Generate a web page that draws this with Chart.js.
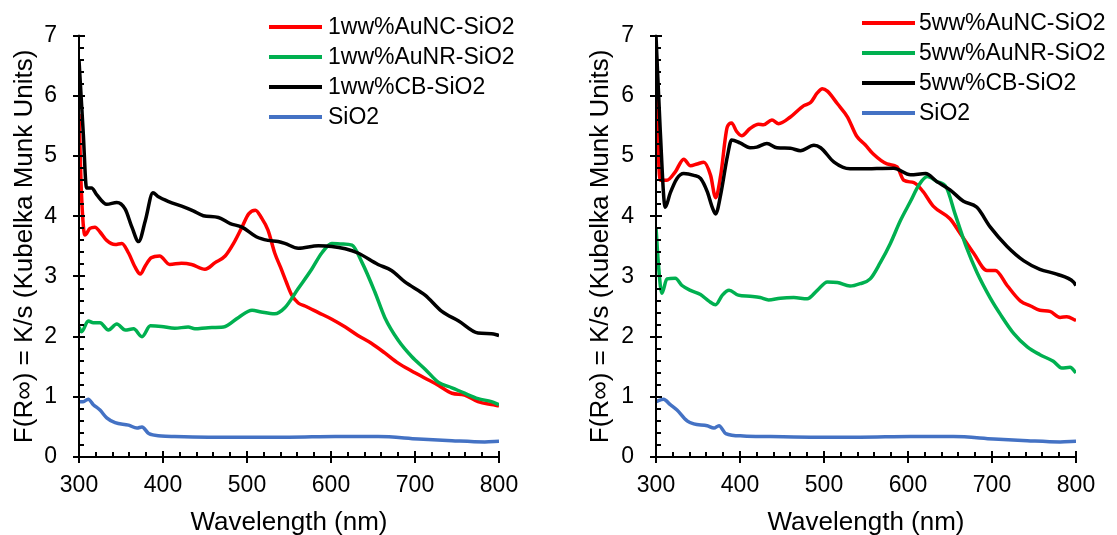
<!DOCTYPE html>
<html>
<head>
<meta charset="utf-8">
<script src="https://cdn.jsdelivr.net/npm/chart.js@4.4.1/dist/chart.umd.min.js"></script>
<style>
    body { margin: 0; background: #fff; }
    #wrap { position: relative; width: 1117px; height: 535px; }
    canvas { position: absolute; top: 0; }
    #chart-left { left: 0; }
    #chart-right { left: 558px; }
</style>
</head>
<body>
<div id="wrap">
    <canvas id="chart-left" width="558" height="535"></canvas>
    <canvas id="chart-right" width="559" height="535"></canvas>
</div>
<script>
/*
    data (wavelength in nm, F(R) values)
*/
// left panel: 1 ww%
const nc1Wl = [300, 303, 307, 313, 319, 325, 333, 343, 351, 359, 367, 373, 379, 386, 396, 408, 422, 434, 450, 462, 474, 484, 494, 502, 510, 517, 525, 533, 540, 547, 553, 561, 569, 585, 601, 617, 632, 648, 664, 680, 696, 712, 728, 744, 759, 775, 791, 800];
const nc1Val = [5.7, 4.36, 3.69, 3.8, 3.82, 3.74, 3.6, 3.53, 3.55, 3.39, 3.15, 3.04, 3.18, 3.31, 3.34, 3.2, 3.22, 3.2, 3.12, 3.23, 3.34, 3.55, 3.82, 4.04, 4.1, 3.98, 3.77, 3.39, 3.15, 2.9, 2.7, 2.56, 2.51, 2.4, 2.29, 2.16, 2.02, 1.89, 1.73, 1.56, 1.43, 1.31, 1.19, 1.06, 1.03, 0.92, 0.87, 0.85];

const nr1Wl = [300, 303, 311, 317, 325, 335, 345, 355, 365, 375, 385, 398, 414, 430, 438, 454, 472, 490, 506, 517, 533, 545, 561, 577, 589, 601, 613, 625, 637, 652, 664, 680, 696, 712, 728, 744, 759, 775, 791, 800];
const nr1Val = [2.16, 2.08, 2.26, 2.23, 2.23, 2.11, 2.21, 2.11, 2.13, 2.0, 2.18, 2.17, 2.14, 2.16, 2.13, 2.15, 2.16, 2.32, 2.44, 2.41, 2.38, 2.48, 2.8, 3.12, 3.39, 3.55, 3.54, 3.52, 3.23, 2.75, 2.32, 1.94, 1.67, 1.46, 1.24, 1.15, 1.06, 0.97, 0.92, 0.87];

const cb1Wl = [300, 305, 309, 315, 321, 333, 345, 355, 363, 371, 379, 388, 394, 406, 426, 436, 448, 466, 480, 494, 511, 525, 537, 545, 561, 585, 601, 617, 632, 656, 672, 688, 712, 732, 752, 775, 791, 800];
const cb1Val = [6.6, 5.4, 4.47, 4.47, 4.36, 4.2, 4.23, 4.12, 3.82, 3.58, 3.93, 4.39, 4.33, 4.25, 4.15, 4.09, 4.01, 3.98, 3.88, 3.82, 3.66, 3.6, 3.58, 3.55, 3.47, 3.51, 3.5, 3.46, 3.39, 3.2, 3.1, 2.91, 2.69, 2.42, 2.26, 2.06, 2.05, 2.02];

const si1Wl = [300, 305, 311, 317, 325, 333, 343, 359, 369, 375, 383, 398, 414, 454, 494, 550, 605, 656, 704, 744, 783, 800];
const si1Val = [0.92, 0.92, 0.96, 0.87, 0.78, 0.65, 0.57, 0.53, 0.48, 0.5, 0.39, 0.35, 0.34, 0.33, 0.33, 0.33, 0.34, 0.34, 0.3, 0.27, 0.25, 0.26];

// right panel: 5 ww%
const nc5Wl = [300, 303, 305, 313, 323, 333, 341, 349, 357, 365, 371, 377, 385, 390, 396, 402, 412, 422, 428, 438, 446, 460, 476, 484, 492, 498, 504, 516, 528, 539, 549, 559, 575, 587, 595, 607, 618, 630, 650, 662, 678, 694, 704, 718, 734, 746, 757, 769, 781, 789, 800];
const nc5Val = [6.9, 5.0, 4.6, 4.6, 4.74, 4.95, 4.84, 4.87, 4.9, 4.68, 4.31, 4.68, 5.49, 5.55, 5.41, 5.34, 5.46, 5.53, 5.52, 5.6, 5.54, 5.65, 5.84, 5.89, 6.05, 6.12, 6.08, 5.87, 5.65, 5.33, 5.19, 5.03, 4.87, 4.82, 4.6, 4.56, 4.41, 4.17, 3.96, 3.72, 3.39, 3.1, 3.1, 2.85, 2.59, 2.51, 2.44, 2.42, 2.32, 2.33, 2.27];

const nr5Wl = [300, 303, 307, 313, 323, 331, 341, 353, 363, 371, 379, 387, 398, 412, 424, 434, 448, 464, 480, 492, 504, 516, 531, 543, 555, 567, 579, 591, 603, 613, 623, 634, 646, 656, 670, 682, 698, 710, 726, 742, 757, 773, 783, 793, 800];
const nr5Val = [3.82, 3.18, 2.72, 2.96, 2.97, 2.85, 2.77, 2.7, 2.59, 2.53, 2.69, 2.77, 2.69, 2.67, 2.65, 2.61, 2.64, 2.65, 2.63, 2.77, 2.91, 2.9, 2.84, 2.88, 2.96, 3.23, 3.55, 3.93, 4.25, 4.52, 4.66, 4.58, 4.47, 4.04, 3.47, 3.07, 2.64, 2.37, 2.05, 1.83, 1.7, 1.59, 1.48, 1.49, 1.4];

const cb5Wl = [300, 305, 311, 317, 325, 333, 345, 353, 361, 367, 371, 377, 385, 390, 400, 412, 420, 432, 444, 460, 472, 488, 496, 512, 531, 543, 583, 603, 621, 634, 650, 666, 682, 698, 718, 738, 757, 777, 797, 800];
const cb5Val = [7.0, 5.44, 4.15, 4.39, 4.63, 4.71, 4.68, 4.63, 4.41, 4.15, 4.04, 4.36, 5.0, 5.27, 5.22, 5.14, 5.15, 5.21, 5.14, 5.13, 5.09, 5.18, 5.14, 4.9, 4.79, 4.79, 4.8, 4.69, 4.71, 4.58, 4.44, 4.25, 4.15, 3.82, 3.5, 3.26, 3.12, 3.04, 2.91, 2.85];

const si5Wl = [300, 309, 317, 325, 337, 345, 361, 369, 375, 383, 404, 432, 484, 543, 603, 654, 702, 742, 781, 800];
const si5Val = [0.92, 0.96, 0.87, 0.78, 0.6, 0.55, 0.52, 0.48, 0.52, 0.39, 0.35, 0.34, 0.33, 0.33, 0.34, 0.34, 0.3, 0.27, 0.25, 0.26];

const leftLabels = ["1ww%AuNC-SiO2", "1ww%AuNR-SiO2", "1ww%CB-SiO2", "SiO2"];
const rightLabels = ["5ww%AuNC-SiO2", "5ww%AuNR-SiO2", "5ww%CB-SiO2", "SiO2"];
const seriesColors = ["#FF0000", "#00B050", "#000000", "#4472C4"];

const xTitle = "Wavelength (nm)";
const yTitle = "F(R\u221E) = K/s (Kubelka Munk Units)";

Chart.defaults.font.family = "'Liberation Sans', Arial, sans-serif";
Chart.defaults.color = "#000";

/*
    axis lines + excel style ticks (major cross, minor inside)
*/
const axisPlugin = {
    id: "axisTicks",
    afterDatasetsDraw(chart) {
        const { ctx, chartArea: area, scales: { x, y } } = chart;
        ctx.save();
        ctx.strokeStyle = "#000";
        ctx.lineWidth = 2;
        ctx.beginPath();
        ctx.moveTo(area.left, area.top - 1);
        ctx.lineTo(area.left, area.bottom);
        ctx.lineTo(area.right + 1, area.bottom);

        for (let v = x.min; v <= x.max; v += 20) {
            const px = Math.round(x.getPixelForValue(v));
            const major = (v - x.min) % 100 === 0;
            ctx.moveTo(px, area.bottom + (major ? 6 : 0));
            ctx.lineTo(px, area.bottom - (major ? 6 : 5));
        }
        for (let i = 0; i <= (y.max - y.min) * 5; i++) {
            const v = y.min + i * 0.2;
            const py = Math.round(y.getPixelForValue(v));
            const major = i % 5 === 0;
            ctx.moveTo(area.left - (major ? 6 : 0), py);
            ctx.lineTo(area.left + (major ? 6 : 5), py);
        }
        ctx.stroke();
        ctx.restore();
    }
};

/*
    legend drawn at a fixed spot, like the excel one
*/
const legendPlugin = {
    id: "sideLegend",
    afterDraw(chart, args, opts) {
        const { ctx } = chart;
        ctx.save();
        ctx.font = "23px 'Liberation Sans', Arial, sans-serif";
        ctx.textBaseline = "middle";
        chart.data.datasets.forEach((ds, i) => {
            const y = opts.y + i * opts.rowHeight;
            ctx.strokeStyle = ds.borderColor;
            ctx.lineWidth = 4;
            ctx.beginPath();
            ctx.moveTo(opts.x, y);
            ctx.lineTo(opts.x + opts.lineLength, y);
            ctx.stroke();
            ctx.fillStyle = "#000";
            ctx.fillText(ds.label, opts.x + opts.lineLength + opts.gap, y + 1);
        });
        ctx.restore();
    }
};

function toPoints(wl, val) {
    return wl.map((w, i) => ({ x: w, y: val[i] }));
}

function makeDatasets(labels, series) {
    return series.map((s, i) => ({
        label: labels[i],
        data: toPoints(s[0], s[1]),
        borderColor: seriesColors[i],
        backgroundColor: seriesColors[i],
        borderWidth: 3.5,
        pointRadius: 0,
        cubicInterpolationMode: "monotone",
        order: 4 - i
    }));
}

function makeChart(canvasId, datasets, layout) {
    const ctx = document.getElementById(canvasId).getContext("2d");
    return new Chart(ctx, {
        type: "line",
        data: { datasets: datasets },
        options: {
            responsive: false,
            animation: false,
            layout: {
                padding: { left: 0, top: 23, right: layout.padRight, bottom: 0 }
            },
            scales: {
                x: {
                    type: "linear",
                    min: 300,
                    max: 800,
                    grid: { display: false, drawTicks: false },
                    border: { display: false },
                    ticks: { stepSize: 100, padding: 15, font: { size: 23 } },
                    title: {
                        display: true,
                        text: xTitle,
                        font: { size: 26, lineHeight: 1.0 },
                        padding: { top: 0, bottom: -1 }
                    },
                    afterFit: (scale) => { scale.height = 78; }
                },
                y: {
                    min: 0,
                    max: 7,
                    grid: { display: false, drawTicks: false },
                    border: { display: false },
                    ticks: { stepSize: 1, padding: 22, font: { size: 23 } },
                    title: {
                        display: true,
                        text: yTitle,
                        font: { size: 26, lineHeight: 1.0 },
                        padding: { top: layout.titlePad, bottom: 0 }
                    },
                    afterFit: (scale) => { scale.width = layout.yWidth; }
                }
            },
            plugins: {
                legend: { display: false },
                tooltip: { enabled: false },
                sideLegend: layout.legend
            }
        },
        plugins: [axisPlugin, legendPlugin]
    });
}

makeChart("chart-left",
    makeDatasets(leftLabels, [[nc1Wl, nc1Val], [nr1Wl, nr1Val], [cb1Wl, cb1Val], [si1Wl, si1Val]]),
    {
        padRight: 59,
        yWidth: 79,
        titlePad: 12,
        legend: { x: 269, y: 27, rowHeight: 30, lineLength: 53, gap: 6 }
    });

makeChart("chart-right",
    makeDatasets(rightLabels, [[nc5Wl, nc5Val], [nr5Wl, nr5Val], [cb5Wl, cb5Val], [si5Wl, si5Val]]),
    {
        padRight: 41,
        yWidth: 98,
        titlePad: 30,
        legend: { x: 304, y: 23, rowHeight: 30, lineLength: 53, gap: 4 }
    });
</script>
</body>
</html>
